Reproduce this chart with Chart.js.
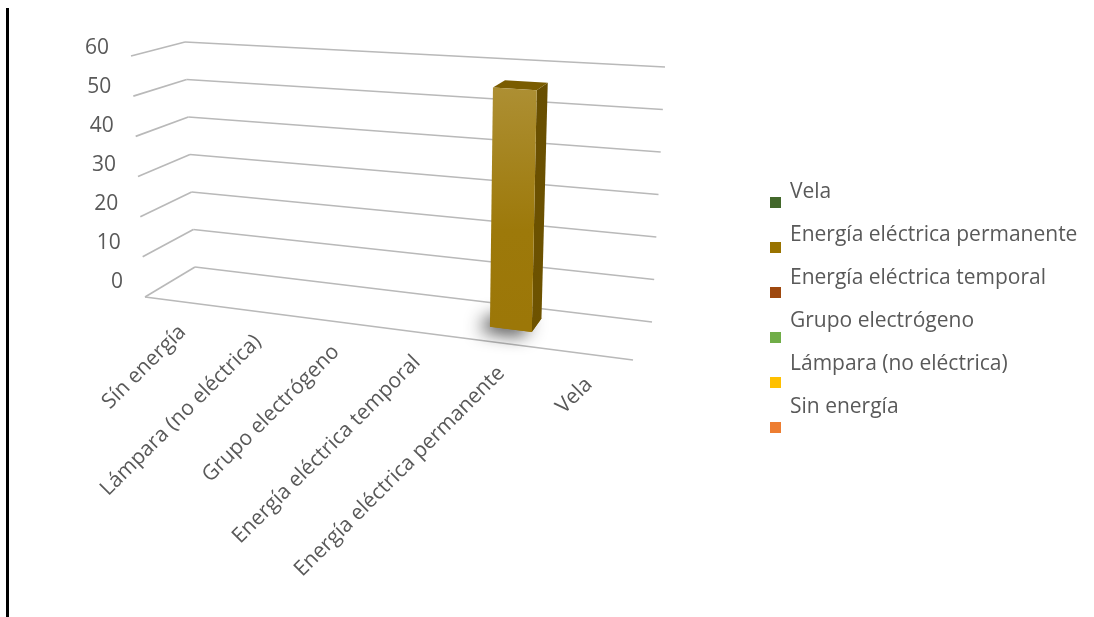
<!DOCTYPE html>
<html>
<head>
<meta charset="utf-8">
<script src="https://cdn.jsdelivr.net/npm/chart.js@4.4.1/dist/chart.umd.min.js"></script>
<style>
  html, body { margin: 0; padding: 0; background: #fff; }
  #wrap { position: relative; width: 1094px; height: 617px; overflow: hidden; }
  #grafico { position: absolute; left: 0; top: 0; }
  #marco { position: absolute; left: 6px; top: 8px; width: 3px; height: 609px; background: #000; }
</style>
</head>
<body>
<div id="wrap">
  <canvas id="grafico" width="1094" height="617"></canvas>
  <div id="marco"></div>
</div>
<script>
// datos del grafico
const categorias = ['Sín energía', 'Lámpara (no eléctrica)', 'Grupo electrógeno', 'Energía eléctrica temporal', 'Energía eléctrica permanente', 'Vela']
const valores = [0, 0, 0, 0, 56, 0]
const leyenda = ['Sin energía', 'Lámpara (no eléctrica)', 'Grupo electrógeno', 'Energía eléctrica temporal', 'Energía eléctrica permanente', 'Vela']
const colores = ['#ED7D31', '#FFC000', '#70AD47', '#9E480E', '#997300', '#43682B']
const ticksY = [0, 10, 20, 30, 40, 50, 60]

const fuente = "'Open Sans', sans-serif"
const gris = '#595959'

// esquinas de la caja 3d: pared del fondo (d=0) y borde delantero (d=1)
const caja = {
    fondo: { ii: [195, 267], di: [652, 322], is: [185, 42], ds: [665, 67] },
    frente: { ii: [145, 297], di: [633, 360], is: [131, 56], ds: [642, 87] }
}
const curva = 1.12          // perspectiva horizontal (lado derecho mas cerca)
const fondoBarra = [0.25, 0.62]  // profundidad que ocupa la barra

function deformar(a) { return a / (curva - (curva - 1) * a) }
function plano(p, t, b) {
    const x0 = p.ii[0] + (p.di[0] - p.ii[0]) * t, y0 = p.ii[1] + (p.di[1] - p.ii[1]) * t
    const x1 = p.is[0] + (p.ds[0] - p.is[0]) * t, y1 = p.is[1] + (p.ds[1] - p.is[1]) * t
    return [x0 + (x1 - x0) * b, y0 + (y1 - y0) * b]
}
function proyectar(a, b, d) {
    const t = deformar(a)
    const f = plano(caja.fondo, t, b), g = plano(caja.frente, t, b)
    return [f[0] + (g[0] - f[0]) * d, f[1] + (g[1] - f[1]) * d]
}
function mezclar(hex, otro, k) {
    const c = [1, 3, 5].map(i => parseInt(hex.substr(i, 2), 16))
    const o = otro === 'blanco' ? [255, 255, 255] : [0, 0, 0]
    const r = c.map((v, i) => Math.round(v + (o[i] - v) * k))
    return `rgb(${r[0]},${r[1]},${r[2]})`
}
function poligono(ctx, puntos) {
    ctx.beginPath()
    puntos.forEach((p, i) => i ? ctx.lineTo(p[0], p[1]) : ctx.moveTo(p[0], p[1]))
    ctx.closePath()
}
function linea(ctx, p, q) {
    ctx.beginPath()
    ctx.moveTo(p[0], p[1])
    ctx.lineTo(q[0], q[1])
    ctx.stroke()
}

// dibuja la caja en perspectiva, las columnas y la leyenda a partir de las escalas
const vista3d = {
    id: 'vista3d',
    beforeDatasetsDraw() { return false },
    afterDraw(chart) {
        const { ctx, chartArea: area, scales: { x, y } } = chart
        const na = px => (px - area.left) / (area.right - area.left)
        const nb = py => (area.bottom - py) / (area.bottom - area.top)

        ctx.save()
        // lineas de division: pared del fondo y pared lateral
        ctx.strokeStyle = '#b9b9b9'
        ctx.lineWidth = 1.7
        ticksY.forEach(v => {
            const b = nb(y.getPixelForValue(v))
            linea(ctx, proyectar(0, b, 0), proyectar(1, b, 0))
            linea(ctx, proyectar(0, b, 1), proyectar(0, b, 0))
        })
        // borde delantero del piso
        linea(ctx, proyectar(0, 0, 1), proyectar(1, 0, 1))

        // etiquetas del eje vertical
        ctx.fillStyle = gris
        ctx.font = `21px ${fuente}`
        ctx.textAlign = 'right'
        ctx.textBaseline = 'middle'
        ticksY.forEach(v => {
            const b = nb(y.getPixelForValue(v))
            const p = proyectar(0, b, 1)
            ctx.fillText(String(v), p[0] - 22, p[1] - 8 - 7 * (1 - b))
        })

        // etiquetas de categorias giradas
        categorias.forEach((c, i) => {
            const p = proyectar(na(x.getPixelForValue(i)), 0, 1)
            ctx.save()
            ctx.translate(p[0] + 1, p[1] + 27)
            ctx.rotate(-Math.PI / 4)
            ctx.fillText(c, 0, 0)
            ctx.restore()
        })

        // columnas
        const meta = chart.getDatasetMeta(0)
        meta.data.forEach((barra, i) => {
            if (!valores[i]) return
            const { x: bx, y: by, base, width } = barra.getProps(['x', 'y', 'base', 'width'], true)
            const aL = na(bx - width / 2), aR = na(bx + width / 2)
            const bT = nb(by), bB = nb(base)
            const [dB, dF] = fondoBarra
            const color = colores[i]

            // sombra bajo la columna
            ctx.save()
            ctx.shadowColor = 'rgba(0,0,0,0.85)'
            ctx.shadowBlur = 18
            ctx.shadowOffsetX = -10
            ctx.shadowOffsetY = 3
            ctx.fillStyle = color
            poligono(ctx, [proyectar(aL, bB, dF), proyectar(aR, bB, dF), proyectar(aR, bB, dB), proyectar(aL, bB, dB)])
            ctx.fill()
            ctx.restore()

            // cara lateral derecha
            const lado = [proyectar(aR, bB, dF), proyectar(aR, bB, dB), proyectar(aR, bT, dB), proyectar(aR, bT, dF)]
            const gl = ctx.createLinearGradient(0, lado[2][1], 0, lado[0][1])
            gl.addColorStop(0, mezclar(color, 'negro', 0.32))
            gl.addColorStop(1, mezclar(color, 'negro', 0.28))
            ctx.fillStyle = gl
            poligono(ctx, lado)
            ctx.fill()

            // cara superior
            ctx.fillStyle = mezclar(color, 'negro', 0.2)
            poligono(ctx, [proyectar(aL, bT, dF), proyectar(aR, bT, dF), proyectar(aR, bT, dB), proyectar(aL, bT, dB)])
            ctx.fill()

            // cara frontal
            const frente = [proyectar(aL, bB, dF), proyectar(aR, bB, dF), proyectar(aR, bT, dF), proyectar(aL, bT, dF)]
            const gf = ctx.createLinearGradient(0, frente[3][1], 0, frente[0][1])
            gf.addColorStop(0, mezclar(color, 'blanco', 0.2))
            gf.addColorStop(0.6, mezclar(color, 'blanco', 0.04))
            gf.addColorStop(1, mezclar(color, 'blanco', 0.03))
            ctx.fillStyle = gf
            poligono(ctx, frente)
            ctx.fill()
        })

        // leyenda (orden inverso)
        ctx.textAlign = 'left'
        ctx.font = `21px ${fuente}`
        const orden = leyenda.map((t, i) => i).reverse()
        orden.forEach((i, k) => {
            const ty = 192 + k * 43
            const my = 202 + k * 45
            ctx.fillStyle = colores[i]
            ctx.fillRect(770, my - 5, 11, 11)
            ctx.fillStyle = gris
            ctx.fillText(leyenda[i], 790, ty)
        })
        ctx.restore()
    }
}

const canvas = document.getElementById('grafico')
const grafico = new Chart(canvas.getContext('2d'), {
    type: 'bar',
    data: {
        labels: categorias,
        datasets: [{
            label: 'Fuente de energía',
            data: valores,
            backgroundColor: colores,
            barPercentage: 0.5,
            categoryPercentage: 1
        }]
    },
    options: {
        responsive: false,
        animation: false,
        devicePixelRatio: 1,
        layout: { padding: 0 },
        scales: {
            x: { display: false },
            y: { display: false, min: 0, max: 60, ticks: { stepSize: 10 } }
        },
        plugins: {
            legend: { display: false },
            tooltip: { enabled: false }
        }
    },
    plugins: [vista3d]
})
</script>
</body>
</html>
